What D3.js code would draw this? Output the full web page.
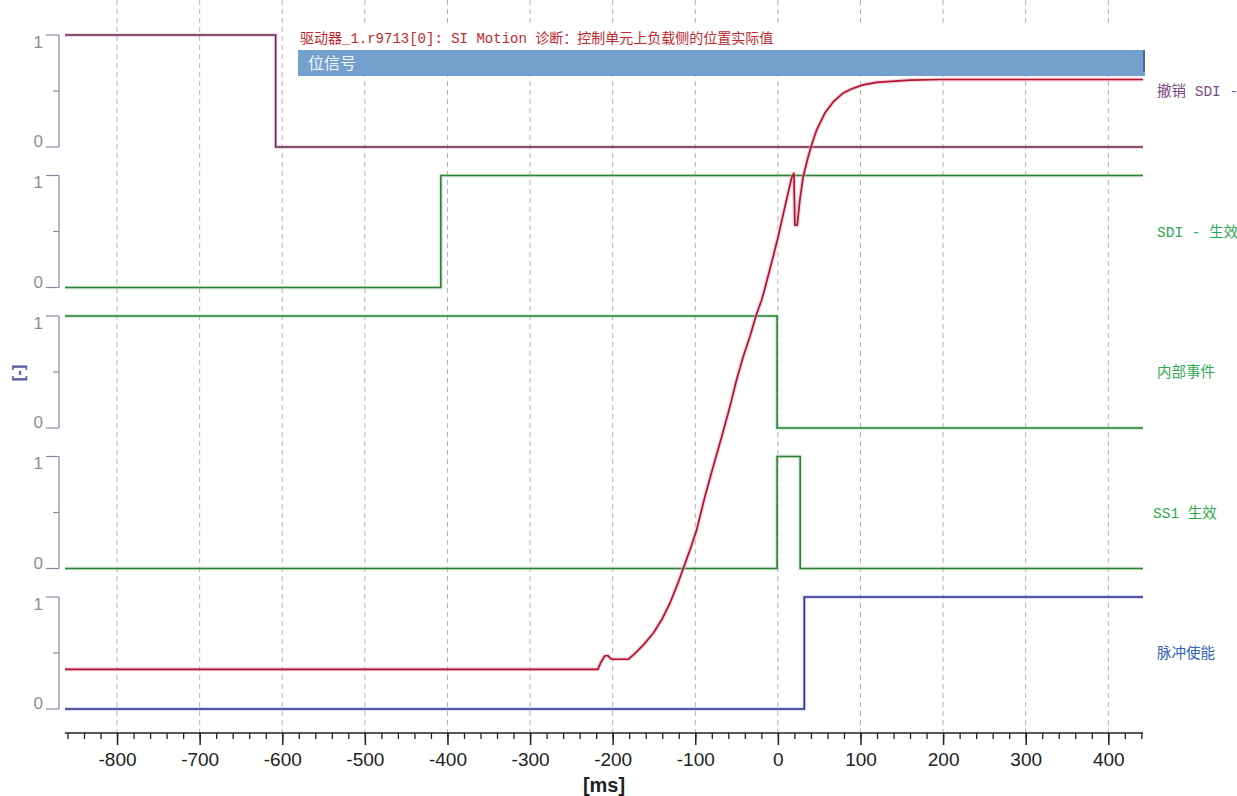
<!DOCTYPE html>
<html>
<head>
<meta charset="utf-8">
<script src="https://cdn.jsdelivr.net/npm/d3@7"></script>
<style>
  body { margin: 0; background: #fff; }
  svg { display: block; }
</style>
</head>
<body>
<svg id="chart" width="1237" height="796"></svg>
<script>
// ---- time axis (ms) ----
const timeDomain = [-863, 442];
const majorTickValues = [-800, -700, -600, -500, -400, -300, -200, -100, 0, 100, 200, 300, 400];
const minorTickValues = d3.range(-860, 441, 20);

// ---- bit-signal lanes, top to bottom ----
const laneLabels = ["撤销 SDI -", "SDI - 生效", "内部事件", "SS1 生效", "脉冲使能"];
const laneTickLabels = ["0", "1"];

// each signal: [time ms, state] change points (drawn as steps)
const revokeSdi     = [[-863, 1], [-608, 0], [442, 0]];
const sdiActive     = [[-863, 0], [-408, 1], [442, 1]];
const internalEvent = [[-863, 1], [-1, 0], [442, 0]];
const ss1Active     = [[-863, 0], [-1, 1], [27, 0], [442, 0]];
const pulseEnable   = [[-863, 0], [32, 1], [442, 1]];
const laneSignals = [revokeSdi, sdiActive, internalEvent, ss1Active, pulseEnable];

// ---- analog trace: load-side actual position (normalised units) ----
const positionTime = [
  -863, -217.9, -214.6, -209.4, -205.8, -201.3, -181.2, -175.2, -163.0, -150.9,
  -140.7, -130.7, -121.0, -114.6, -106.5, -98.4, -88.3, -78.3, -68.1, -58.1,
  -50.0, -42.0, -33.9, -26.6, -19.7, -15.7, -5.7, 0.4, 8.5, 16.6,
  19.4, 20.6, 23.4, 26.6, 30.6, 36.7, 40.8, 46.8, 56.9, 66.9,
  79.0, 91.1, 103.2, 119.4, 159.8, 196.1, 442
];
const positionValue = [
  0, 0, 1.1, 2.3, 2.3, 1.7, 1.7, 2.4, 4.1, 6.1,
  8.4, 11.2, 14.6, 17.1, 20.2, 23.6, 29.3, 34.4, 39.4, 44.5,
  49.1, 53.0, 56.4, 59.9, 62.6, 64.6, 70.0, 73.4, 78.4, 83.3,
  84.1, 75.3, 75.3, 79.6, 83.5, 86.9, 88.9, 91.4, 94.3, 96.2,
  97.7, 98.5, 99.1, 99.5, 99.9, 100, 100
];

const titleText = "驱动器_1.r9713[0]: SI Motion 诊断：控制单元上负载侧的位置实际值";
const groupText = "位信号";
const unitText = "[-]";
const xAxisTitle = "[ms]";

// ---- styling ----
const laneColors = ["#5b2a52", "#2d7f3b", "#2d7f3b", "#2d7f3b", "#2b2d8c"];
const laneHalo = ["#e8a8c8", "#a8dcb0", "#a8dcb0", "#a8dcb0", "#b0b4e8"];
const labelColors = ["#7b4a82", "#2fa84f", "#2fa84f", "#2fa84f", "#2d62b5"];

const svg = d3.select("#chart");
const plotLeft = 65, plotRight = 1143, axisY = 733;
const laneTop0 = 35, laneStep = 140.5, laneHeight = 112;

const x = d3.scaleLinear().domain(timeDomain).range([plotLeft, plotRight]);
const laneScales = laneLabels.map((_, i) => {
  const top = laneTop0 + i * laneStep;
  return d3.scaleLinear().domain([0, 1]).range([top + laneHeight, top]);
});
const yPos = d3.scaleLinear().domain([0, 100]).range([669.3, 79.5]);

// vertical dashed grid
svg.append("g")
  .selectAll("line")
  .data(majorTickValues)
  .join("line")
  .attr("x1", d => x(d)).attr("x2", d => x(d))
  .attr("y1", 0).attr("y2", axisY)
  .attr("stroke", "#b2b2b2")
  .attr("stroke-width", 1)
  .attr("stroke-dasharray", "5,4");

// header: title and group bar
svg.append("rect").attr("x", 298).attr("y", 26).attr("width", 847).attr("height", 24).attr("fill", "#fff");
svg.append("text")
  .attr("x", 300).attr("y", 43)
  .attr("font-family", "'Liberation Mono', 'Noto Sans CJK SC', monospace")
  .attr("font-size", 14)
  .attr("fill", "#c1272d")
  .text(titleText);
svg.append("rect").attr("x", 298).attr("y", 50).attr("width", 847).attr("height", 26).attr("fill", "#73a0cc");
svg.append("rect").attr("x", 1143).attr("y", 50).attr("width", 2).attr("height", 22).attr("fill", "#4466a8");
svg.append("text")
  .attr("x", 308).attr("y", 69)
  .attr("font-family", "'Noto Sans CJK SC', sans-serif")
  .attr("font-size", 16)
  .attr("fill", "#f2f6fb")
  .text(groupText);

// lane brackets with 0 / 1 ticks
const bracketX = 59;
laneScales.forEach(y => {
  const g = svg.append("g").attr("stroke", "#8888a0").attr("stroke-width", 1.2);
  g.append("line").attr("x1", bracketX).attr("x2", bracketX).attr("y1", y(1)).attr("y2", y(0));
  g.append("line").attr("x1", bracketX - 13).attr("x2", bracketX).attr("y1", y(1)).attr("y2", y(1));
  g.append("line").attr("x1", bracketX - 13).attr("x2", bracketX).attr("y1", y(0)).attr("y2", y(0));
  g.append("line").attr("x1", bracketX - 6).attr("x2", bracketX).attr("y1", y(0.5)).attr("y2", y(0.5));
  laneTickLabels.forEach(t => {
    const v = +t;
    svg.append("text")
      .attr("x", 43)
      .attr("y", v === 1 ? y(1) + 12.5 : y(0))
      .attr("text-anchor", "end")
      .attr("font-family", "'Liberation Sans', Arial, sans-serif")
      .attr("font-size", 17)
      .attr("fill", "#8e8e8e")
      .text(t);
  });
});

// unit label
svg.append("text")
  .attr("transform", "translate(24,373) rotate(-90)")
  .attr("text-anchor", "middle")
  .attr("font-family", "'Liberation Sans', Arial, sans-serif")
  .attr("font-size", 17)
  .attr("font-weight", "bold")
  .attr("fill", "#5b5ba6")
  .text(unitText);

// bit signals as step lines
laneSignals.forEach((sig, i) => {
  const y = laneScales[i];
  const line = d3.line().x(d => x(d[0])).y(d => y(d[1])).curve(d3.curveStepAfter);
  svg.append("path").datum(sig).attr("d", line)
    .attr("fill", "none").attr("stroke", laneHalo[i]).attr("stroke-width", 4).attr("opacity", 0.45);
  svg.append("path").datum(sig).attr("d", line)
    .attr("fill", "none").attr("stroke", laneColors[i]).attr("stroke-width", 1.6);
});

// lane names at the right
laneLabels.forEach((name, i) => {
  const y = laneScales[i];
  svg.append("text")
    .attr("x", i === 3 ? 1153 : 1157)
    .attr("y", y(0.5) + 5)
    .attr("font-family", "'Liberation Mono', 'Noto Sans CJK SC', monospace")
    .attr("font-size", 14.5)
    .attr("fill", labelColors[i])
    .text(name);
});

// position trace
const posData = positionTime.map((t, i) => [t, positionValue[i]]);
const posLine = d3.line().x(d => x(d[0])).y(d => yPos(d[1]));
svg.append("path").datum(posData).attr("d", posLine)
  .attr("fill", "none").attr("stroke", "#f0a0b4").attr("stroke-width", 4).attr("opacity", 0.5)
  .attr("stroke-linejoin", "round");
svg.append("path").datum(posData).attr("d", posLine)
  .attr("fill", "none").attr("stroke", "#b01530").attr("stroke-width", 1.7)
  .attr("stroke-linejoin", "round");

// time axis: major ticks with labels, minor ticks every 20 ms
const minorAxis = d3.axisBottom(x).tickValues(minorTickValues).tickSize(6).tickFormat("");
const majorAxis = d3.axisBottom(x).tickValues(majorTickValues).tickSize(12).tickPadding(8)
  .tickFormat(d => String(d));
const gMinor = svg.append("g").attr("transform", `translate(0,${axisY})`).call(minorAxis);
gMinor.select(".domain").remove();
gMinor.selectAll("line").attr("stroke", "#222").attr("stroke-width", 1.3);
const gMajor = svg.append("g").attr("transform", `translate(0,${axisY})`).call(majorAxis);
gMajor.select(".domain").attr("d", `M${plotLeft},0H${plotRight}`).attr("stroke", "#222").attr("stroke-width", 1.6);
gMajor.selectAll("line").attr("stroke", "#222").attr("stroke-width", 1.5);
gMajor.selectAll("text")
  .attr("font-family", "'Liberation Sans Narrow', 'Liberation Sans', Arial, sans-serif")
  .attr("font-size", 19)
  .attr("fill", "#222");

svg.append("text")
  .attr("x", (plotLeft + plotRight) / 2)
  .attr("y", 792)
  .attr("text-anchor", "middle")
  .attr("font-family", "'Liberation Sans', Arial, sans-serif")
  .attr("font-size", 20)
  .attr("font-weight", "bold")
  .attr("fill", "#222")
  .text(xAxisTitle);
</script>
</body>
</html>
